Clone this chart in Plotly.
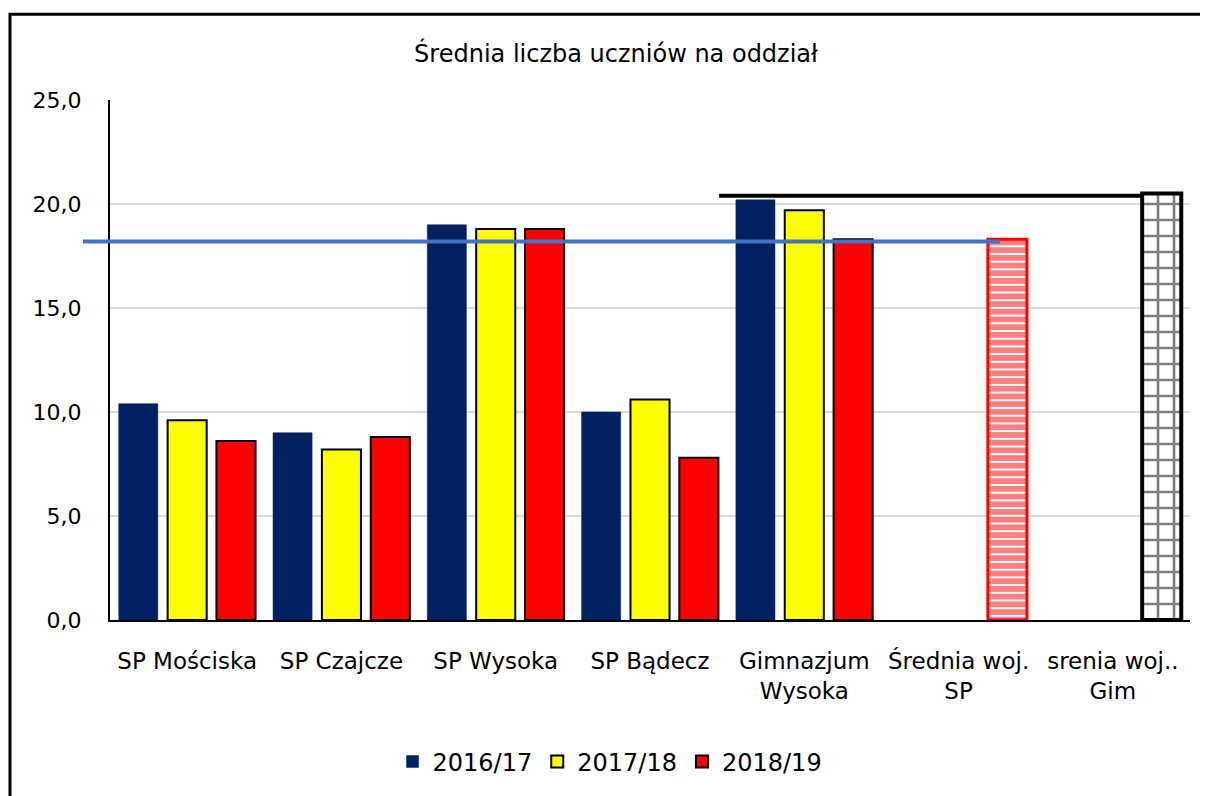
import plotly.graph_objects as go

categories = ["SP Mościska", "SP Czajcze", "SP Wysoka", "SP Bądecz",
              "Gimnazjum<br>Wysoka", "Średnia woj.<br>SP", "srenia woj..<br>Gim"]
s2016 = [10.4, 9.0, 19.0, 10.0, 20.2, None, None]
s2017 = [9.6, 8.2, 18.8, 10.6, 19.7, None, None]
s2018 = [8.6, 8.8, 18.8, 7.8, 18.3, None, None]
woj_sp = [None, None, None, None, None, 18.3, None]
woj_gim = [None, None, None, None, None, None, 20.5]
avg_sp = 18.2
avg_gim = 20.4
y_max = 25

font = "DejaVu Sans"

fig = go.Figure()
fig.add_trace(go.Bar(x=categories, y=s2016, name="2016/17", offsetgroup="a",
                     marker=dict(color="#002060",
                                 line=dict(color="#002060", width=0.5))))
fig.add_trace(go.Bar(x=categories, y=s2017, name="2017/18", offsetgroup="b",
                     marker=dict(color="#FFFF00",
                                 line=dict(color="black", width=2))))
fig.add_trace(go.Bar(x=categories, y=s2018, name="2018/19", offsetgroup="c",
                     marker=dict(color="#FF0000",
                                 line=dict(color="black", width=2))))
fig.add_trace(go.Bar(x=categories, y=woj_sp, name="Średnia woj. SP",
                     offsetgroup="c", showlegend=False,
                     marker=dict(color="white",
                                 line=dict(color="#FF0000", width=3),
                                 pattern=dict(shape="-", fgcolor="#FF0000",
                                              bgcolor="white", size=7.7,
                                              solidity=0.75))))
fig.add_trace(go.Bar(x=categories, y=woj_gim, name="srenia woj. Gim",
                     offsetgroup="c", showlegend=False,
                     marker=dict(color="white",
                                 line=dict(color="black", width=4),
                                 pattern=dict(shape="+", fgcolor="black",
                                              bgcolor="white", size=16,
                                              solidity=0.3))))

# reference lines (voivodeship averages)
fig.add_shape(type="line", xref="paper", yref="paper", x0=-0.025, x1=0.824,
              y0=avg_sp / y_max, y1=avg_sp / y_max,
              line=dict(color="#4472C4", width=4))
fig.add_shape(type="line", xref="paper", yref="paper", x0=0.564, x1=0.956,
              y0=avg_gim / y_max, y1=avg_gim / y_max,
              line=dict(color="black", width=4))

# outer chart border
fig.add_shape(type="rect", xref="paper", yref="paper",
              x0=-0.0926, x1=1.2, y0=-0.6, y1=1.165,
              line=dict(color="black", width=3), layer="above")

fig.update_layout(
    width=1200, height=788,
    margin=dict(l=102, r=18, t=92, b=176),
    paper_bgcolor="white", plot_bgcolor="white",
    separators=", ",
    font=dict(family=font, size=22, color="black"),
    title=dict(text="Średnia liczba uczniów na oddział", x=608 / 1200,
               xanchor="center", y=1 - 46 / 788, yanchor="middle",
               font=dict(size=24)),
    barmode="group", bargap=0.05, bargroupgap=0.2,
    showlegend=True,
    legend=dict(orientation="h", x=0.463, xanchor="center",
                y=-0.273, yanchor="middle", font=dict(size=24),
                itemwidth=30),
    xaxis=dict(showline=True, linecolor="black", linewidth=2,
               ticks="", tickfont=dict(size=23), ticklabelstandoff=19),
    yaxis=dict(range=[0, y_max], dtick=5, tickformat=".1f",
               showline=True, linecolor="black", linewidth=2,
               gridcolor="#d9d9d9", gridwidth=1.5, zeroline=False,
               ticks="", ticklabelstandoff=22, tickfont=dict(size=22)),
)

fig.write_html("out.html")
